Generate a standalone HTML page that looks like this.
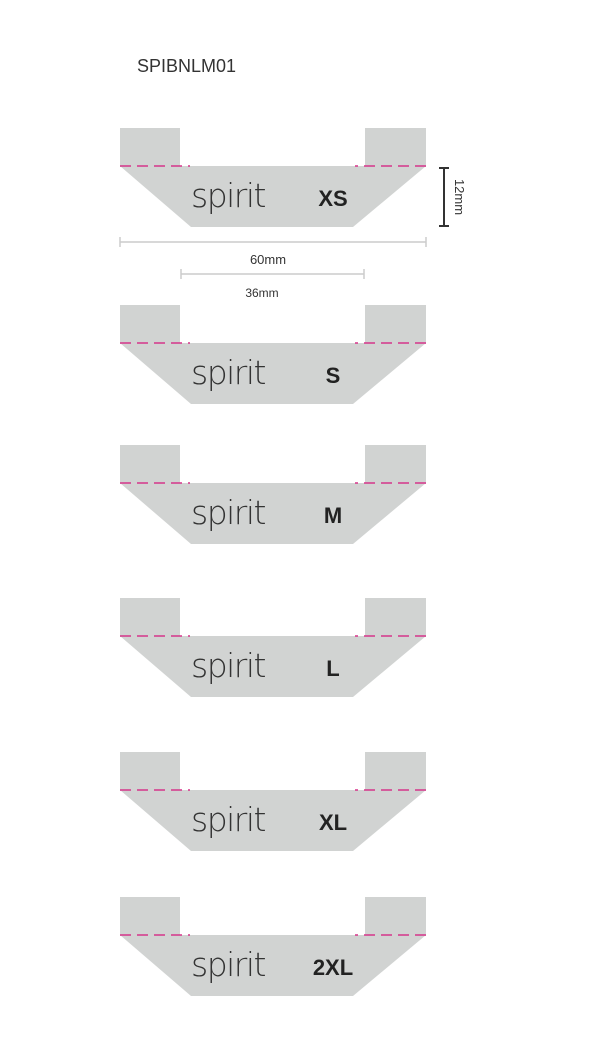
<!DOCTYPE html><html><head><style>body{margin:0;background:#fff;width:606px;height:1050px;overflow:hidden}</style></head><body>
<svg width="606" height="1050" xmlns="http://www.w3.org/2000/svg" font-family="Liberation Sans, sans-serif">
<defs><g id="s">
<rect x="120" y="0" width="60" height="39" fill="#d1d3d2"/>
<rect x="365" y="0" width="61" height="39" fill="#d1d3d2"/>
<polygon points="120,38 426,38 353,99 191,99" fill="#d1d3d2"/>
<line x1="120" y1="38" x2="190" y2="38" stroke="#d6358a" stroke-width="1.5" stroke-dasharray="11,6"/>
<line x1="426" y1="38" x2="355" y2="38" stroke="#d6358a" stroke-width="1.5" stroke-dasharray="11,6"/>
<text x="228" y="79" font-size="33" fill="#333" text-anchor="middle" letter-spacing="-1.5" style="font-family:'DejaVu Sans','Liberation Sans',sans-serif;font-weight:200">spirit</text>
</g></defs>
<text x="137" y="72" font-size="18" fill="#333">SPIBNLM01</text>
<use href="#s" y="128"/><text x="333" y="206" font-size="22" font-weight="bold" fill="#222" text-anchor="middle">XS</text>
<use href="#s" y="305"/><text x="333" y="383" font-size="22" font-weight="bold" fill="#222" text-anchor="middle">S</text>
<use href="#s" y="445"/><text x="333" y="523" font-size="22" font-weight="bold" fill="#222" text-anchor="middle">M</text>
<use href="#s" y="598"/><text x="333" y="676" font-size="22" font-weight="bold" fill="#222" text-anchor="middle">L</text>
<use href="#s" y="752"/><text x="333" y="830" font-size="22" font-weight="bold" fill="#222" text-anchor="middle">XL</text>
<use href="#s" y="897"/><text x="333" y="975" font-size="22" font-weight="bold" fill="#222" text-anchor="middle">2XL</text>
<g stroke="#333" stroke-width="2"><line x1="444" y1="168" x2="444" y2="226"/><line x1="439" y1="168" x2="449" y2="168"/><line x1="439" y1="226" x2="449" y2="226"/></g>
<text transform="translate(455,197) rotate(90)" font-size="13" fill="#333" text-anchor="middle">12mm</text>
<g stroke="#ccc" stroke-width="1.5"><line x1="120" y1="242" x2="426" y2="242"/><line x1="120" y1="237" x2="120" y2="247"/><line x1="426" y1="237" x2="426" y2="247"/>
<line x1="181" y1="274" x2="364" y2="274"/><line x1="181" y1="269" x2="181" y2="279"/><line x1="364" y1="269" x2="364" y2="279"/></g>
<text x="268" y="264" font-size="13" fill="#333" text-anchor="middle">60mm</text>
<text x="262" y="297" font-size="12" fill="#333" text-anchor="middle">36mm</text>
</svg></body></html>
